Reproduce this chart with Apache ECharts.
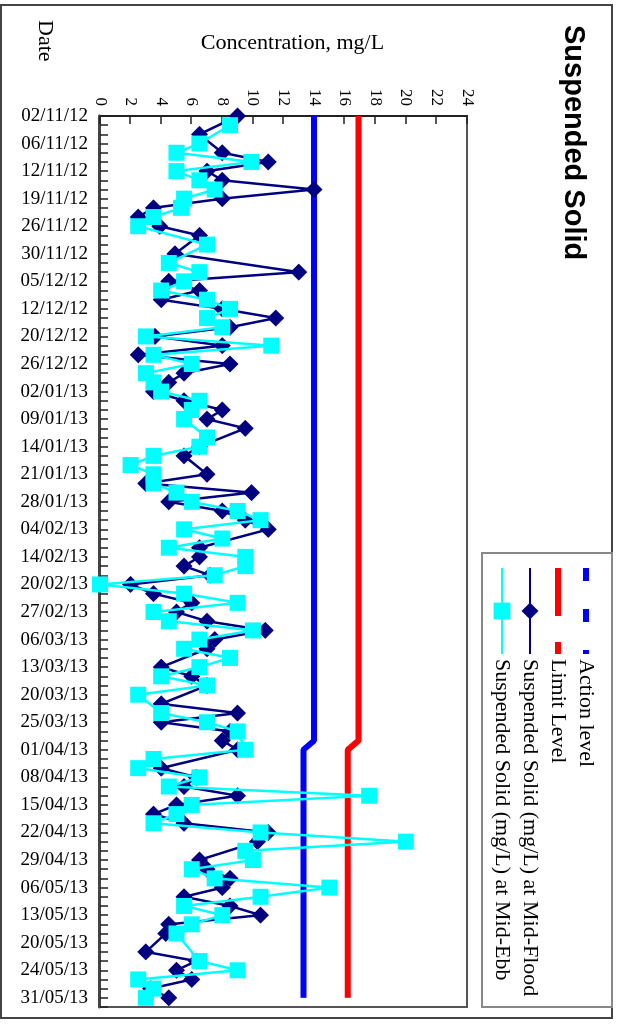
<!DOCTYPE html>
<html><head><meta charset="utf-8">
<script src="https://cdn.jsdelivr.net/npm/echarts@6/dist/echarts.min.js"></script>
<style>
html,body{margin:0;padding:0;background:#fff;overflow:hidden;width:619px;height:1027px}
#wrap{position:absolute;left:0;top:0;width:1027px;height:619px;transform-origin:0 0;transform:translateX(619px) rotate(90deg);background:#fff}
</style></head><body><div id="wrap"></div>
<script>
// Date labels shown on every third sampling date
const tickLabels = ['02/11/12','06/11/12','12/11/12','19/11/12','26/11/12','30/11/12','05/12/12','12/12/12','20/12/12','26/12/12',
 '02/01/13','09/01/13','14/01/13','21/01/13','28/01/13','04/02/13','14/02/13','20/02/13','27/02/13','06/03/13',
 '13/03/13','20/03/13','25/03/13','01/04/13','08/04/13','15/04/13','22/04/13','29/04/13','06/05/13','13/05/13',
 '20/05/13','24/05/13','31/05/13'];
const valueTicks = [0,2,4,6,8,10,12,14,16,18,20,22,24];
// Suspended Solid (mg/L) at Mid-Flood, one value per sampling date (null = no marker)
const flood = [9.0,null,6.5,null,8.0,11.0,7.0,8.0,14.0,8.0,
 3.5,2.5,3.9,6.5,null,4.9,null,13.0,4.5,6.5,
 4.0,8.0,11.5,8.5,3.6,8.0,2.5,8.5,5.5,4.5,
 3.5,5.5,8.0,7.0,9.5,null,6.5,5.5,null,7.0,
 3.0,9.9,4.5,8.0,9.5,11.0,null,6.5,6.5,5.5,
 7.2,2.0,3.5,6.0,5.0,7.0,10.8,7.5,7.0,null,
 4.0,6.0,7.0,null,4.0,9.0,4.0,8.5,8.0,9.0,
 null,4.0,6.3,5.5,9.0,5.0,3.5,5.5,11.0,10.3,
 null,6.5,7.0,8.5,8.0,5.5,8.5,10.5,4.5,4.3,
 null,3.0,6.3,5.0,6.0,3.3,4.5];
// Suspended Solid (mg/L) at Mid-Ebb
const ebb = [null,8.5,null,6.5,5.0,9.9,5.0,6.5,7.5,5.5,
 5.3,3.5,2.5,null,7.0,null,4.5,6.5,5.5,4.0,
 7.0,8.5,7.0,8.0,3.0,11.2,3.5,6.0,3.0,3.5,
 4.0,6.5,6.0,5.5,null,7.0,6.5,3.5,2.0,3.5,
 3.5,5.0,6.0,9.0,10.5,5.5,8.0,4.5,9.5,9.5,
 7.5,0.0,5.5,9.0,3.5,4.5,10.0,6.5,5.5,8.5,
 6.5,4.0,7.0,2.5,null,4.0,7.0,9.0,null,9.5,
 3.5,2.5,6.5,4.5,17.6,6.0,5.0,3.5,10.5,20.0,
 9.5,10.0,6.0,7.5,15.0,10.5,5.5,8.0,6.0,5.0,
 null,null,6.5,9.0,2.5,3.5,3.0];
// Action / Limit levels as [date index, value] end points
const actionLevel = [[0,14.0],[68,14.0],[69,13.3],[96,13.3]];
const limitLevel = [[0,16.9],[68,16.9],[69,16.2],[96,16.2]];

const categories = [];
for (let i = 0; i < 98; i++) categories.push(i % 3 === 0 && tickLabels[i / 3] ? tickLabels[i / 3] : 'd' + i);

const serif = 'Liberation Serif';
const chart = echarts.init(document.getElementById('wrap'), null, {renderer: 'canvas'});
chart.setOption({
  animation: false,
  backgroundColor: '#fff',
  title: {text: 'Suspended Solid', left: 20, top: 26,
    textStyle: {fontFamily: 'Liberation Sans', fontWeight: 'bold', fontSize: 29, color: '#000'}},
  legend: {
    orient: 'vertical', left: 560, top: 17, itemWidth: 86, itemHeight: 21, itemGap: 6,
    textStyle: {fontFamily: serif, fontSize: 22, color: '#000'},
    data: [
      {name: 'Action level', lineStyle: {type: [13, 28], width: 6}, itemStyle: {opacity: 0}},
      {name: 'Limit Level', lineStyle: {type: [48, 26], width: 6}, itemStyle: {opacity: 0}},
      {name: 'Suspended Solid (mg/L) at Mid-Flood'},
      {name: 'Suspended Solid (mg/L) at Mid-Ebb'}
    ]
  },
  grid: {left: 116, right: 20, top: 152, bottom: 100, show: true, borderColor: '#555', borderWidth: 2},
  xAxis: {
    type: 'category', data: categories, boundaryGap: false,
    axisLine: {lineStyle: {color: '#444', width: 3}},
    axisTick: {interval: 0, inside: true, length: 8, lineStyle: {color: '#222', width: 1.5}},
    axisLabel: {interval: 2, rotate: 90, margin: 12, fontFamily: serif, fontSize: 19, color: '#000'},
    splitLine: {show: false}
  },
  yAxis: {
    type: 'value', min: valueTicks[0], max: valueTicks[valueTicks.length - 1], interval: 2,
    name: 'Concentration, mg/L', nameLocation: 'middle', nameRotate: 90, nameGap: 62,
    nameTextStyle: {fontFamily: serif, fontSize: 22, color: '#000', padding: [0, 0, 0, 18]},
    axisLine: {show: true, lineStyle: {color: '#222', width: 2}},
    axisTick: {show: true, inside: true, length: 8, lineStyle: {color: '#222', width: 1.5}},
    axisLabel: {margin: 10, fontFamily: serif, fontSize: 17, color: '#000'},
    splitLine: {show: false}
  },
  graphic: [
    {type: 'rect', silent: true, z: -10, shape: {x: 5, y: 7, width: 1013, height: 611}, style: {fill: 'none', stroke: '#444', lineWidth: 2}},
    {type: 'rect', silent: true, z: -10, shape: {x: 553, y: 7, width: 454, height: 130}, style: {fill: 'none', stroke: '#888', lineWidth: 2}},
    {type: 'text', x: 20, y: 574, style: {text: 'Date', font: '22px "Liberation Serif"', fill: '#000', verticalAlign: 'middle'}}
  ],
  series: [
    {name: 'Action level', type: 'line', data: actionLevel, symbol: 'none', color: '#0000FF',
      lineStyle: {color: '#0000FF', width: 6}, z: 2},
    {name: 'Limit Level', type: 'line', data: limitLevel, symbol: 'none', color: '#FF0000',
      lineStyle: {color: '#FF0000', width: 6}, z: 2},
    {name: 'Suspended Solid (mg/L) at Mid-Flood', type: 'line', data: flood, connectNulls: true,
      showAllSymbol: true, symbol: 'diamond', symbolSize: 17, color: '#000080', itemStyle: {color: '#000080'},
      lineStyle: {color: '#000080', width: 2.5}, z: 3},
    {name: 'Suspended Solid (mg/L) at Mid-Ebb', type: 'line', data: ebb, connectNulls: true,
      showAllSymbol: true, symbol: 'rect', symbolSize: 16, color: '#00FFFF', itemStyle: {color: '#00FFFF'},
      lineStyle: {color: '#00FFFF', width: 2.5}, z: 4}
  ]
});
</script></body></html>
